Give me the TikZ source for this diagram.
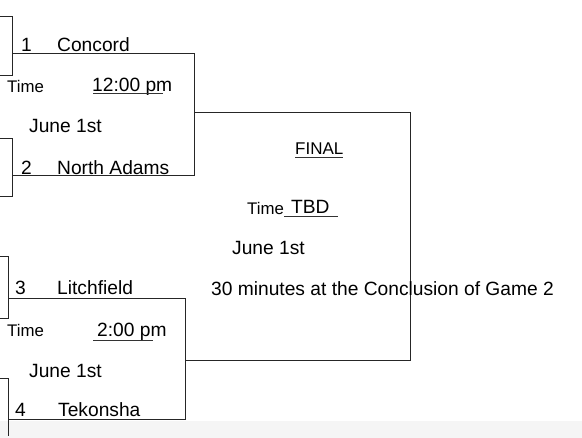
\documentclass[tikz,border=0pt]{standalone}
\usepackage{fontspec}
\setmainfont{Liberation Sans}
\begin{document}
\begin{tikzpicture}[x=1pt,y=-1pt,
  ln/.style={draw=black!85,line width=1pt},
  ul/.style={draw=black!80,line width=1pt},
  big/.style={anchor=base west,inner sep=0pt,font=\fontsize{19.2}{21}\selectfont},
  mid/.style={anchor=base west,inner sep=0pt,font=\fontsize{17}{19}\selectfont},
  sml/.style={anchor=base west,inner sep=0pt,font=\fontsize{16.8}{18}\selectfont}]
\useasboundingbox (0,0) rectangle (582,438);
\fill[black!4] (0,421) rectangle (582,438);
% coordinates
\coordinate (a1) at (0,17);   \coordinate (a2) at (12,17);
\coordinate (a3) at (12,76);  \coordinate (a4) at (0,76);
\coordinate (b1) at (0,139);  \coordinate (b2) at (12,139);
\coordinate (b3) at (12,197); \coordinate (b4) at (0,197);
\coordinate (g1s) at (12,54); \coordinate (g1t) at (194,54);
\coordinate (g1b) at (194,176); \coordinate (g1e) at (12,176);
\coordinate (fm) at (194,113); \coordinate (ftr) at (410,113);
\coordinate (fbr) at (410,361); \coordinate (fbl) at (185,361);
\coordinate (c1) at (0,257);  \coordinate (c2) at (8,257);
\coordinate (c3) at (8,319);  \coordinate (c4) at (0,319);
\coordinate (g2s) at (8,299); \coordinate (g2t) at (185,299);
\coordinate (g2b) at (185,420); \coordinate (g2e) at (8,420);
\coordinate (d1) at (0,379);  \coordinate (d2) at (8,379);
\coordinate (d3) at (8,436);
% lines
\draw[ln] (a1) -- (a2) -- (a3) -- (a4);
\draw[ln] (b1) -- (b2) -- (b3) -- (b4);
\draw[ln] (g1s) -- (g1t) -- (g1b) -- (g1e);
\draw[ln] (fm) -- (ftr) -- (fbr) -- (fbl);
\draw[ln] (c1) -- (c2) -- (c3) -- (c4);
\draw[ln] (g2s) -- (g2t) -- (g2b) -- (g2e);
\draw[ln] (d1) -- (d2) -- (d3);
% game 1
\node[big] (n1) at (21,52) {1};
\node[big] (t1) at (57,52) {Concord};
\node[sml] (tm1) at (7,93) {Time};
\node[big] (h1) at (92,92) {12:00 pm};
\coordinate (u1a) at (93,94); \coordinate (u1b) at (163,94);
\draw[ul] (u1a) -- (u1b);
\node[big] (j1) at (29,133) {June 1st};
\node[big] (n2) at (21,175) {2};
\node[big] (t2) at (57,175) {North Adams};
% game 2
\node[big] (n3) at (15,295) {3};
\node[big] (t3) at (57,295) {Litchfield};
\node[sml] (tm2) at (7,337) {Time};
\node[big] (h2) at (97,337) {2:00 pm};
\coordinate (u2a) at (93,341); \coordinate (u2b) at (153,341);
\draw[ul] (u2a) -- (u2b);
\node[big] (j2) at (29,378) {June 1st};
\node[big] (n4) at (15,417) {4};
\node[big] (t4) at (58,417) {Tekonsha};
% final
\node[mid] (fin) at (295,155) {FINAL};
\coordinate (ufa) at (295,158); \coordinate (ufb) at (343,158);
\draw[ul] (ufa) -- (ufb);
\node[sml] (tmf) at (247,215) {Time};
\node[big] (tbd) at (291,214) {TBD};
\coordinate (uta) at (284,217); \coordinate (utb) at (338,217);
\draw[ul] (uta) -- (utb);
\node[big] (jf) at (232,255) {June 1st};
\node[big] (note) at (211,296) {30 minutes at the Conclusion of Game 2};
\end{tikzpicture}
\end{document}
